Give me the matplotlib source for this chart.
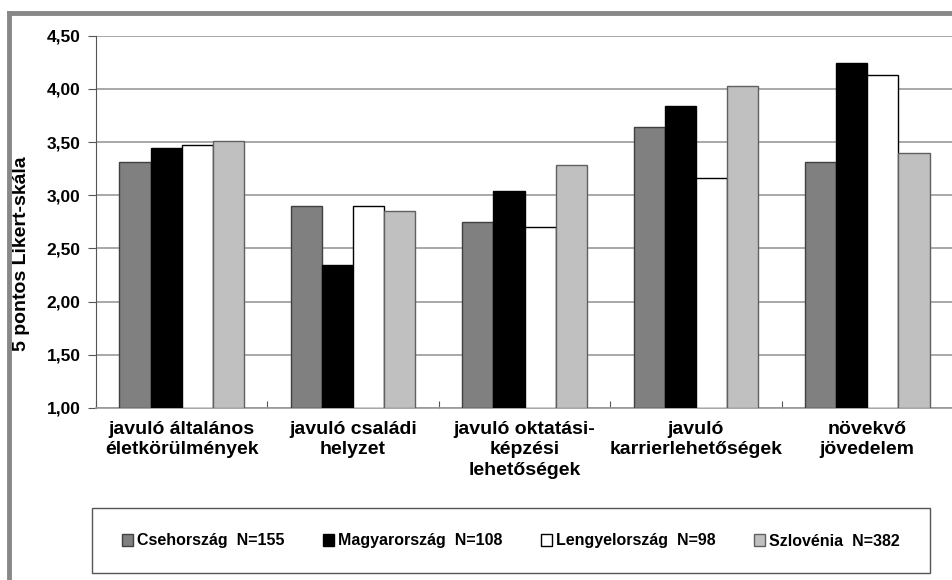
import numpy as np
import matplotlib.pyplot as plt
from matplotlib.patches import Rectangle
from matplotlib import font_manager

names = sorted(set(f.name for f in font_manager.fontManager.ttflist))
narrow = 'Liberation Sans Narrow' if 'Liberation Sans Narrow' in names else 'Liberation Sans'
plt.rcParams['font.family'] = [narrow, 'DejaVu Sans']

categories = ['javuló általános\néletkörülmények',
              'javuló családi\nhelyzet',
              'javuló oktatási-\nképzési\nlehetőségek',
              'javuló\nkarrierlehetőségek',
              'növekvő\njövedelem']
series = ['Csehország  N=155', 'Magyarország  N=108', 'Lengyelország  N=98', 'Szlovénia  N=382']
cz = [3.31, 2.90, 2.75, 3.64, 3.31]
hu = [3.44, 2.34, 3.04, 3.84, 4.24]
pl = [3.47, 2.90, 2.70, 3.16, 4.13]
sl = [3.51, 2.85, 3.28, 4.03, 3.40]
values = [cz, hu, pl, sl]
fills = ['#808080', '#000000', '#ffffff', '#c0c0c0']
edges = ['#404040', '#000000', '#000000', '#606060']

fig = plt.figure(figsize=(9.53, 5.8), dpi=100)
ax = fig.add_axes([96/953, 1-408/580, 1-96/953, (408-35.7)/580])

x = np.arange(len(categories))
w = 0.182
for i, vals in enumerate(values):
    ax.bar(x + (i-1.5)*w, np.array(vals)-1, bottom=1, width=w, color=fills[i],
           edgecolor=edges[i], linewidth=1, label=series[i], zorder=3)

ax.set_xlim(-0.5, 4.5)
ax.set_ylim(1, 4.5)
ticks = np.arange(1, 4.51, 0.5)
ax.set_yticks(ticks)
ax.set_yticklabels([('%.2f' % t).replace('.', ',') for t in ticks], fontsize=12.5, fontweight='bold')
ax.yaxis.grid(True, color='#999999', linewidth=1.2, zorder=0)
ax.set_axisbelow(True)
ax.set_xticks(np.arange(-0.5, 4.6, 1))
ax.set_xticklabels([])
ax.tick_params(axis='x', length=5, color='#555555', direction='in')
ax.tick_params(axis='y', length=6, color='#555555', pad=5)
for i, c in enumerate(categories):
    ax.annotate(c, xy=(i, 1), xytext=(0, -9), textcoords='offset points',
                ha='center', va='top', fontsize=14, fontweight='bold', linespacing=1.3)
for s in ['top', 'right']:
    ax.spines[s].set_visible(False)
ax.spines['left'].set_color('#555555')
ax.spines['bottom'].set_color('#999999')
ax.spines['bottom'].set_linewidth(1.2)
ax.set_ylabel('5 pontos Likert-skála', fontsize=14, fontweight='bold', va='center')
ax.yaxis.set_label_coords(-0.0865, 0.414)

# outer frame
fig.add_artist(plt.Line2D([9/953, 9/953], [0, 1-13/580], color='#888888', linewidth=3.5))
fig.add_artist(plt.Line2D([9/953, 1], [1-13/580, 1-13/580], color='#888888', linewidth=3.5))

# legend box
fig.add_artist(Rectangle((92/953, 1-573/580), (930-92)/953, 65/580, transform=fig.transFigure,
                         facecolor='white', edgecolor='#555555', linewidth=1))
leg = fig.legend(loc='center', bbox_to_anchor=(511/953, 1-541/580),
                 ncol=4, prop={'weight': 'bold', 'size': 11.5},
                 frameon=False, handlelength=0.7, handleheight=0.7,
                 handletextpad=0.25, columnspacing=2.4, borderaxespad=0)
fig.savefig('out.png', dpi=100)
